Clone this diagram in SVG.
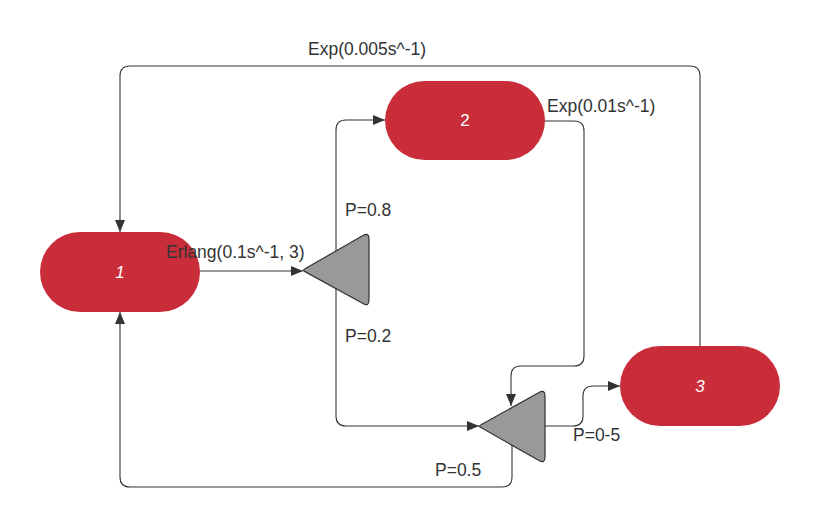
<svg xmlns="http://www.w3.org/2000/svg" width="820" height="527" viewBox="0 0 820 527">
<defs>
<marker id="arr" viewBox="0 0 12 10" refX="12" refY="5" markerWidth="12" markerHeight="10" markerUnits="userSpaceOnUse" orient="auto">
<path d="M0,0 L12,5 L0,10 Z" fill="#333333"/>
</marker>
<style>
.node{fill:#C92D39;}
.nlab{font-family:"Liberation Sans",Arial,sans-serif;font-size:17px;fill:#ffffff;text-anchor:middle;}
.tri{fill:#999999;stroke:#333333;stroke-width:1.2;stroke-linejoin:round;}
.conn{fill:none;stroke:#333333;stroke-width:1.1;}
.lab{font-family:"Liberation Sans",Arial,sans-serif;font-size:17.5px;fill:#333333;}
</style>
</defs>
<rect width="820" height="527" fill="#ffffff"/>
<g id="connectors">
<path class="conn" d="M700,346 V76 Q700,66 690,66 H130 Q120,66 120,76 V232" marker-end="url(#arr)"/>
<path class="conn" d="M200,271 H303" marker-end="url(#arr)"/>
<path class="conn" d="M336,270 V130 Q336,120 346,120 H385" marker-end="url(#arr)"/>
<path class="conn" d="M336,270 V416 Q336,426 346,426 H479" marker-end="url(#arr)"/>
<path class="conn" d="M545,121 H574 Q584,121 584,131 V356 Q584,366 574,366 H521 Q511,366 511,376 V406" marker-end="url(#arr)"/>
<path class="conn" d="M545,426 H573 Q583,426 583,416 V396 Q583,386 593,386 H620" marker-end="url(#arr)"/>
<path class="conn" d="M512,443 V477 Q512,487 502,487 H130 Q120,487 120,477 V312" marker-end="url(#arr)"/>
</g>
<g id="node1">
<rect class="node" x="40" y="232" width="160" height="80" rx="40" ry="40"/>
<text class="nlab" x="120" y="278" font-style="italic">1</text>
</g>
<g id="node2">
<rect class="node" x="385" y="81" width="160" height="79" rx="39.5" ry="39.5"/>
<text class="nlab" x="465" y="126">2</text>
</g>
<g id="node3">
<rect class="node" x="620" y="346" width="160" height="80" rx="40" ry="40"/>
<text class="nlab" x="700" y="392" font-style="italic">3</text>
</g>
<g id="decision1">
<path class="tri" d="M305,268.8 L363,235.5 Q369,232 369,239 L369,300 Q369,307 363,303.6 L305,271.6 Q302,270.2 305,268.8 Z"/>
</g>
<g id="decision2">
<path class="tri" d="M481,424.8 L539,392.5 Q545,389 545,396 L545,457 Q545,464 539,460.6 L481,427.6 Q478,426.2 481,424.8 Z"/>
</g>
<g id="labels">
<text class="lab" x="308" y="55">Exp(0.005s^-1)</text>
<text class="lab" x="547" y="112">Exp(0.01s^-1)</text>
<text class="lab" x="166" y="258">Erlang(0.1s^-1, 3)</text>
<text class="lab" x="345" y="216">P=0.8</text>
<text class="lab" x="345" y="342">P=0.2</text>
<text class="lab" x="435" y="476">P=0.5</text>
<text class="lab" x="573" y="441">P=0-5</text>
</g>
</svg>
